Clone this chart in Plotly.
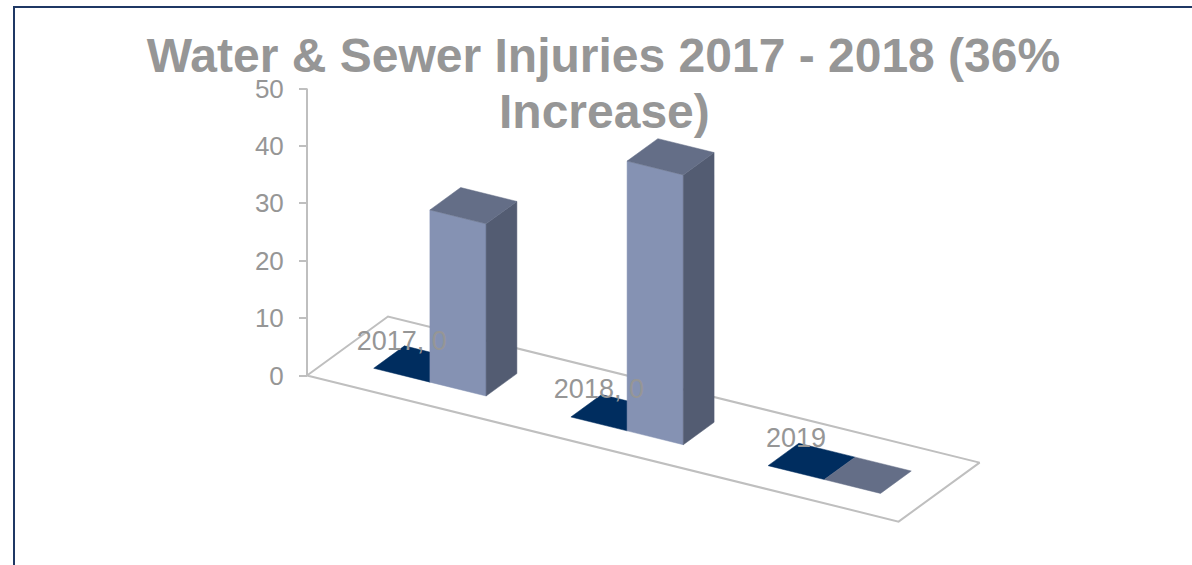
import plotly.graph_objects as go

# Data
categories = ["2017", "2018", "2019"]
series_a = [0, 0, 0]
series_b = [30, 47, 0]
labels = ["2017, 0", "2018, 0", "2019"]
y_ticks = [0, 10, 20, 30, 40, 50]
title_line_1 = "Water & Sewer Injuries 2017 - 2018 (36%"
title_line_2 = "Increase)"

# Style and oblique projection constants
W, H = 1192, 565
ORIGIN_X, ORIGIN_Y = 307, 375.5
PX_PER_UNIT = 5.74
CAT_VEC = (197.2, 48.7)
DEPTH_VEC = (81.0, -59.0)
GREY = "#969696"
LINE = "#bfbfbf"
DARK = "#002d5f"
FRONT = "#8592b3"
SIDE = "#535c72"
TOP = "#646e87"
BORDER = "#1f3864"


def proj(u, d, v=0.0):
    """Floor position (u categories, d depth) and value v to axis coordinates."""
    x = CAT_VEC[0] * u + DEPTH_VEC[0] * d
    y = v + (-CAT_VEC[1] * u - DEPTH_VEC[1] * d) / PX_PER_UNIT
    return x, y


def poly(points, color):
    xs, ys = zip(*points)
    return go.Scatter(x=list(xs) + [xs[0]], y=list(ys) + [ys[0]], mode="lines",
                      fill="toself", fillcolor=color, line=dict(color=color, width=0.5),
                      hoverinfo="skip", showlegend=False)


def box(u0, u1, d0, d1, v, top_color):
    traces = []
    if v > 0:
        traces.append(poly([proj(u0, d0), proj(u1, d0), proj(u1, d0, v), proj(u0, d0, v)], FRONT))
        traces.append(poly([proj(u1, d0), proj(u1, d1), proj(u1, d1, v), proj(u1, d0, v)], SIDE))
    traces.append(poly([proj(u0, d0, v), proj(u1, d0, v), proj(u1, d1, v), proj(u0, d1, v)], top_color))
    return traces


fig = go.Figure()

# Axis line
fig.add_trace(go.Scatter(x=[0, 0], y=[0, 50], mode="lines", line=dict(color=LINE, width=2),
                         hoverinfo="skip", showlegend=False))

# Floor outline
n = len(categories)
floor = [proj(0, 0), proj(n, 0), proj(n, 1), proj(0, 1), proj(0, 0)]
fig.add_trace(go.Scatter(x=[p[0] for p in floor], y=[p[1] for p in floor], mode="lines",
                         line=dict(color=LINE, width=2), hoverinfo="skip", showlegend=False))

BAR_W = 0.285
D0, D1 = 0.30, 0.68
for i in range(n):
    u_mid = i + 0.5
    for start, value, top_color in ((u_mid - BAR_W, series_a[i], DARK), (u_mid, series_b[i], TOP)):
        for t in box(start, start + BAR_W, D0, D1, value, top_color):
            fig.add_trace(t)

# Data labels
lx, ly = [], []
for i in range(n):
    px, py = proj(i + 0.355, 0.49, series_a[i])
    lx.append(px - 15)
    ly.append(py + 21 / PX_PER_UNIT)
fig.add_trace(go.Scatter(x=lx, y=ly, mode="text", text=labels, textposition="middle center",
                         textfont=dict(family="Liberation Sans", size=27, color=GREY),
                         hoverinfo="skip", showlegend=False))

# Frame of the picture
fig.add_trace(go.Scatter(x=[14 - ORIGIN_X, 14 - ORIGIN_X, W - ORIGIN_X],
                         y=[(ORIGIN_Y - H) / PX_PER_UNIT, (ORIGIN_Y - 7) / PX_PER_UNIT, (ORIGIN_Y - 7) / PX_PER_UNIT],
                         mode="lines", line=dict(color=BORDER, width=2),
                         hoverinfo="skip", showlegend=False))

title_font = dict(family="Liberation Sans", size=48, color=GREY, weight="bold")
fig.update_layout(
    width=W, height=H, margin=dict(l=0, r=0, t=0, b=0),
    paper_bgcolor="white", plot_bgcolor="white", showlegend=False,
    title=dict(text=title_line_1, x=603.5 / W, xanchor="center", xref="paper",
               y=1 - 55.5 / H, yanchor="middle", yref="container", font=title_font),
    annotations=[dict(text=title_line_2, x=604.5 / W, xref="paper", xanchor="center",
                      y=1 - 111.5 / H, yref="paper", yanchor="middle", showarrow=False, font=title_font)],
    xaxis=dict(visible=False, range=[-ORIGIN_X, W - ORIGIN_X], fixedrange=True),
    yaxis=dict(range=[(ORIGIN_Y - H) / PX_PER_UNIT, ORIGIN_Y / PX_PER_UNIT], anchor="free",
               position=ORIGIN_X / W, tickmode="array", tickvals=y_ticks,
               ticks="outside", ticklen=8, tickwidth=2, tickcolor=LINE, ticklabelstandoff=10,
               showgrid=False, zeroline=False, showline=False, fixedrange=True,
               tickfont=dict(family="Liberation Sans", size=26, color=GREY)),
)

fig.write_html("out.html", config=dict(displayModeBar=False),
               post_script="document.body.style.margin='0';")
